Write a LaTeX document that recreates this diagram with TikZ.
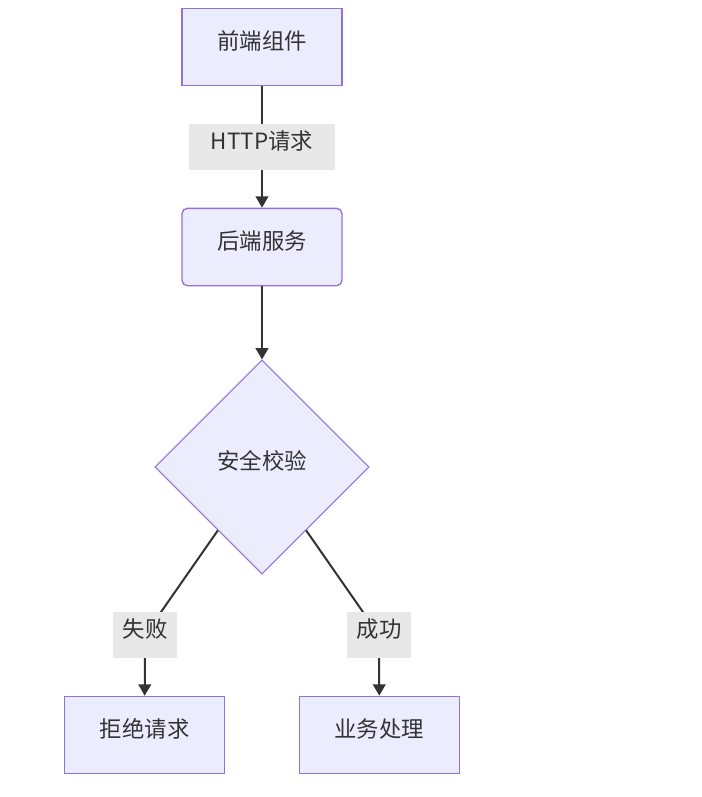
\documentclass[tikz,border=0pt]{standalone}
\usepackage{fontspec}
\setmainfont{Noto Sans CJK SC}
\usetikzlibrary{shapes.geometric,arrows.meta}
\definecolor{nodefill}{HTML}{ECECFF}
\definecolor{nodeline}{HTML}{9370DB}
\definecolor{txt}{HTML}{333333}
\definecolor{lblfill}{HTML}{E8E8E8}
\begin{document}
\begin{tikzpicture}[x=0.75pt,y=-0.75pt,
  every node/.style={font=\fontsize{16.8pt}{20pt}\selectfont, text=txt, text height=14pt, text depth=11pt},
  box/.style={draw=nodeline, fill=nodefill, line width=1pt, minimum width=120pt, minimum height=58pt, inner sep=0pt},
  rbox/.style={box, rounded corners=4pt},
  decision/.style={diamond, draw=nodeline, fill=nodefill, line width=0.8pt, shape aspect=1, minimum width=160.5pt, minimum height=160.5pt, inner sep=0pt},
  elabel/.style={fill=lblfill, minimum height=35pt, inner sep=0pt},
  edge/.style={draw=txt, line width=1.5pt, -{Triangle[length=8.5pt,width=9.5pt]}}
]
\useasboundingbox (0,0) rectangle (702,797);
\node[box] (fe) at (262,47) {前端组件};
\node[rbox] (be) at (262,247) {后端服务};
\node[decision] (chk) at (262,467) {安全校验};
\node[box] (rej) at (144.7,735) {拒绝请求};
\node[box] (biz) at (379.3,735) {业务处理};
\coordinate (lh) at (262,147);
\coordinate (lf) at (145,635);
\coordinate (ls) at (379,635);
\draw[edge] (fe) -- (be);
\draw[edge] (be) -- (chk.north);
\draw[edge] (chk) -- (lf) -- (rej.north);
\draw[edge] (chk) -- (ls) -- (biz.north);
\node[elabel, minimum width=110pt] (lblh) at (lh) {HTTP请求};
\node[elabel, minimum width=48.5pt] (lblf) at (lf) {失败};
\node[elabel, minimum width=48.5pt] (lbls) at (ls) {成功};
\end{tikzpicture}
\end{document}
